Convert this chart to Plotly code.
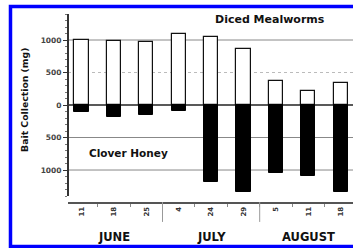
import plotly.graph_objects as go

# Data
dates = ["11", "18", "25", "4", "24", "29", "5", "11", "18"]
months = ["JUNE", "JULY", "AUGUST"]
month_centers = [1, 4, 7]
mealworms = [1000, 985, 965, 1088, 1046, 868, 375, 220, 334]
clover_honey = [-103, -190, -154, -92, -1180, -1333, -1050, -1086, -1333]
ytick_vals = [-1000, -500, 0, 500, 1000]
ytick_text = ["1000", "500", "0", "500", "1000"]

xs = list(range(len(dates)))
FONT = "DejaVu Sans, Verdana, sans-serif"

fig = go.Figure()
fig.add_trace(go.Bar(x=xs, y=mealworms, width=0.44,
                     marker=dict(color="white", line=dict(color="#111", width=1.2)),
                     name="Diced Mealworms"))
fig.add_trace(go.Bar(x=xs, y=clover_honey, width=0.44,
                     marker=dict(color="black", line=dict(color="black", width=1)),
                     name="Clover Honey"))

shapes = []
grid_styles = {1000: ("#888", 1, "solid"), 500: ("#bbb", 1, "dot"), 0: ("#222", 1.5, "solid"),
               -500: ("#888", 1, "solid"), -1000: ("#888", 1, "solid")}
for v, (c, w, d) in grid_styles.items():
    shapes.append(dict(type="line", xref="paper", yref="y", x0=0, x1=1, y0=v, y1=v,
                       line=dict(color=c, width=w, dash=d), layer="below"))
shapes.append(dict(type="line", xref="paper", yref="y", x0=0, x1=0, y0=-1400, y1=1400,
                   line=dict(color="#333", width=2)))
for b in [2.5, 5.5]:
    shapes.append(dict(type="line", xref="x", yref="paper", x0=b, x1=b, y0=0, y1=-0.106,
                       line=dict(color="#999", width=1)))
shapes.append(dict(type="rect", xref="paper", yref="paper", x0=-0.2018, x1=1.2,
                   y0=-0.2367, y1=1.0399, line=dict(color="#0000ff", width=3.5)))

def ann(text, x, y, size, xref="paper", angle=0):
    return dict(text="<b>%s</b>" % text, x=x, y=y, xref=xref, yref="paper",
                xanchor="center", yanchor="middle", textangle=angle,
                showarrow=False, font=dict(size=size, color="#111", family=FONT))

annotations = [
    ann("Diced Mealworms", 0.709, 0.973, 11),
    ann("Clover Honey", 0.214, 0.261, 10.5),
    ann("Bait Collection (mg)", -0.151, 0.543, 9.3, angle=-90),
]
for m, c in zip(months, month_centers):
    annotations.append(ann(m, c, -0.186, 11.5, xref="x"))

fig.update_layout(
    width=353, height=248,
    margin=dict(l=68, r=0, t=14, b=46),
    paper_bgcolor="white", plot_bgcolor="white",
    showlegend=False, barmode="relative", bargap=0,
    shapes=shapes, annotations=annotations,
    font=dict(family=FONT, color="#222"),
    xaxis=dict(range=[-0.417, 8.38], tickmode="array", tickvals=xs,
               ticktext=["<b>%s</b>" % d for d in dates], tickangle=-90,
               tickfont=dict(size=7, color="#333"), showgrid=False, zeroline=False,
               showline=True, linecolor="#555", linewidth=2, ticks="",
               minor=dict(tickvals=[i + 0.5 for i in xs[:-1]], ticks="outside",
                          ticklen=3, tickcolor="#888", showgrid=False)),
    yaxis=dict(range=[-1492, 1400], tickmode="array", tickvals=ytick_vals,
               ticktext=["<b>%s</b>" % t for t in ytick_text],
               tickfont=dict(size=7.5, color="#444"), showgrid=False, zeroline=False,
               showline=False, ticks="outside", ticklen=4, tickcolor="#333",
               minor=dict(dtick=100, ticks="outside", ticklen=2, tickcolor="#777",
                          showgrid=False)),
)

fig.write_html("out.html", config={"displayModeBar": False},
               post_script="document.body.style.margin='0';document.body.style.overflow='hidden';")
